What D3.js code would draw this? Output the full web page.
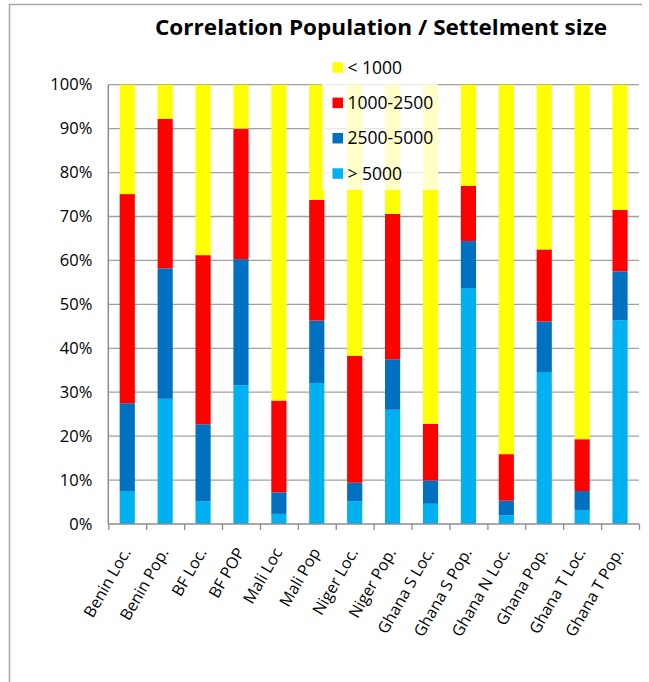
<!DOCTYPE html>
<html>
<head>
<meta charset="utf-8">
<script src="https://cdn.jsdelivr.net/npm/d3@7"></script>
<style>
  html, body { margin: 0; padding: 0; background: #fff; }
  svg { display: block; }
  text { font-family: "Open Sans", "DejaVu Sans", sans-serif; fill: #000; }
</style>
</head>
<body>
<svg id="chart" width="649" height="682"></svg>
<script>
// ---- data ----
const categories = ["Benin Loc.", "Benin Pop.", "BF Loc.", "BF POP", "Mali Loc", "Mali Pop",
  "Niger Loc.", "Niger Pop.", "Ghana S Loc.", "Ghana S Pop.", "Ghana N Loc.", "Ghana Pop.",
  "Ghana T Loc.", "Ghana T Pop."];
const seriesNames = ["> 5000", "2500-5000", "1000-2500", "< 1000"];
const over5000     = [7.5, 28.5, 5.2, 31.6, 2.3, 32.1, 5.2, 26.0, 4.6, 53.7, 2.0, 34.6, 3.2, 46.4];
const from2500to5000 = [20.0, 29.7, 17.5, 28.7, 4.9, 14.2, 4.2, 11.5, 5.3, 10.7, 3.3, 11.5, 4.3, 11.1];
const from1000to2500 = [47.6, 34.0, 38.5, 29.7, 20.9, 27.5, 28.9, 33.1, 12.9, 12.6, 10.6, 16.4, 11.8, 14.0];
const under1000    = [24.9, 7.8, 38.8, 10.0, 71.9, 26.2, 61.7, 29.4, 77.2, 23.0, 84.1, 37.5, 80.7, 28.5];
const yTicks = [0, 0.1, 0.2, 0.3, 0.4, 0.5, 0.6, 0.7, 0.8, 0.9, 1.0];
const legendOrder = ["< 1000", "1000-2500", "2500-5000", "> 5000"];
const colors = { "> 5000": "#00B0F0", "2500-5000": "#0070C0", "1000-2500": "#FF0000", "< 1000": "#FFFF00" };

const seriesValues = [over5000, from2500to5000, from1000to2500, under1000];
const rows = categories.map((c, i) => {
  const r = { cat: c };
  const tot = seriesValues.reduce((s, arr) => s + arr[i], 0);
  seriesNames.forEach((n, k) => r[n] = seriesValues[k][i] / tot);
  return r;
});

// ---- layout ----
const svg = d3.select("#chart");
const plot = { left: 108.3, right: 639, top: 84.7, bottom: 524 };

// outer border (left + top visible)
svg.append("path")
  .attr("d", "M9.5,682 L9.5,4.5 L642,4.5")
  .attr("fill", "none").attr("stroke", "#a6a6a6").attr("stroke-width", 1.5);

const x = d3.scaleBand().domain(categories).range([plot.left, plot.right]).paddingInner(0.6).paddingOuter(0.3);
const y = d3.scaleLinear().domain([0, 1]).range([plot.bottom, plot.top]);

// gridlines
svg.append("g").selectAll("line").data(yTicks.filter(t => t > 0)).join("line")
  .attr("x1", plot.left).attr("x2", plot.right)
  .attr("y1", d => y(d)).attr("y2", d => y(d))
  .attr("stroke", "#a0a0a0").attr("stroke-width", 1.3);

// y axis labels
const yAxis = d3.axisLeft(y).tickValues(yTicks).tickFormat(d3.format(".0%")).tickSize(0).tickPadding(16);
const gy = svg.append("g").attr("transform", `translate(${plot.left},0)`).call(yAxis);
gy.select(".domain").remove();
gy.selectAll("text").attr("font-size", 16.5).attr("font-family", "'Open Sans', sans-serif").attr("fill", "#000");

// stacked bars
const stack = d3.stack().keys(seriesNames);
const stacked = stack(rows);
svg.append("g").selectAll("g").data(stacked).join("g")
  .attr("fill", d => colors[d.key])
  .selectAll("rect").data(d => d).join("rect")
  .attr("x", d => x(d.data.cat))
  .attr("width", x.bandwidth())
  .attr("y", d => y(d[1]))
  .attr("height", d => y(d[0]) - y(d[1]));

// y axis line
svg.append("line")
  .attr("x1", plot.left).attr("x2", plot.left).attr("y1", plot.top).attr("y2", plot.bottom)
  .attr("stroke", "#8c8c8c").attr("stroke-width", 1.5);

// x axis
const xAxisScale = d3.scaleLinear().domain([0, categories.length]).range([plot.left, plot.right]);
const gx = svg.append("g").attr("transform", `translate(0,${plot.bottom})`)
  .call(d3.axisBottom(xAxisScale).tickValues(d3.range(categories.length + 1)).tickSize(6).tickFormat(""));
gx.select(".domain").attr("stroke", "#8c8c8c").attr("stroke-width", 1.5).attr("d", `M${plot.left},0H${plot.right}`);
gx.selectAll(".tick line").attr("stroke", "#8c8c8c").attr("stroke-width", 1.3);

// category labels
svg.append("g").selectAll("text").data(categories).join("text")
  .attr("transform", d => `translate(${x(d) + x.bandwidth() / 2 + 4},${plot.bottom + 28}) rotate(-60)`)
  .attr("text-anchor", "end")
  .attr("font-size", 16)
  .text(d => d);

// legend (semi-transparent box over bars)
const lg = svg.append("g");
lg.append("rect").attr("x", 322).attr("y", 52).attr("width", 116).attr("height", 138)
  .attr("fill", "#fff").attr("fill-opacity", 0.78);
const legendY = d3.scalePoint().domain(legendOrder).range([67.5, 173.5]);
legendOrder.forEach(k => {
  lg.append("rect").attr("x", 332.5).attr("y", legendY(k) - 5.2).attr("width", 10.5).attr("height", 10.5)
    .attr("fill", colors[k]);
  lg.append("text").attr("x", 347.5).attr("y", legendY(k)).attr("dy", "0.36em")
    .attr("font-size", 17.5).text(k);
});

// title
const title = svg.append("text").attr("x", 381).attr("y", 35).attr("text-anchor", "middle")
  .attr("font-size", 22).attr("font-weight", "bold")
  .text("Correlation Population / Settelment size");
title.attr("textLength", 452).attr("lengthAdjust", "spacingAndGlyphs");
</script>
</body>
</html>
